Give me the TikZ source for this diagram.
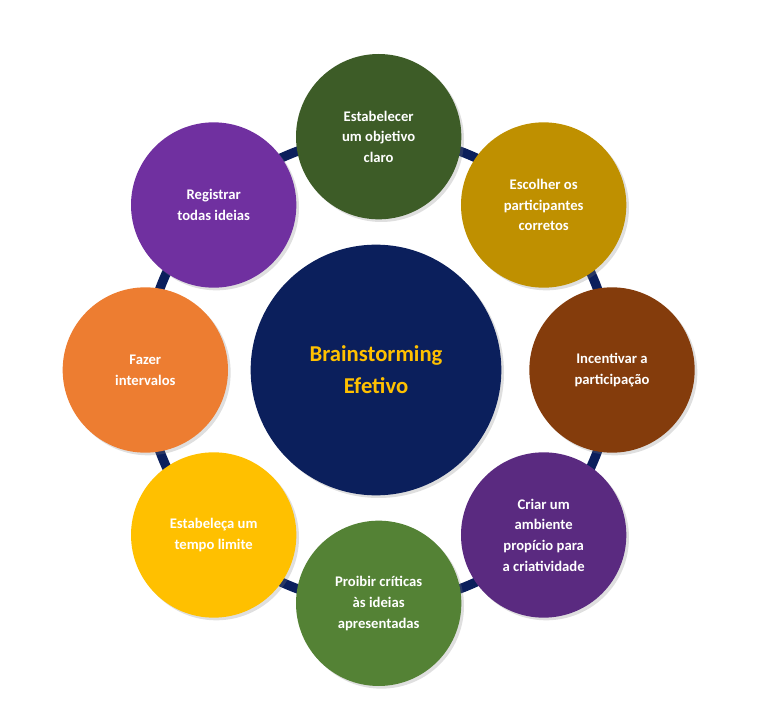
\documentclass[tikz,border=0pt]{standalone}
\usepackage{fontspec}
\setmainfont{Carlito}
\usetikzlibrary{positioning,shadows,calc}
\definecolor{navy}{HTML}{0B1F5C}
\definecolor{cgreen}{HTML}{3D5C27}
\definecolor{cgold}{HTML}{BF9000}
\definecolor{cbrown}{HTML}{843C0C}
\definecolor{cdpurple}{HTML}{5A2A80}
\definecolor{clgreen}{HTML}{548235}
\definecolor{cyellow}{HTML}{FFC000}
\definecolor{corange}{HTML}{ED7D31}
\definecolor{cpurple}{HTML}{7030A0}
\begin{document}
\begin{tikzpicture}[x=1pt,y=-1pt,
      outer_node/.style={
         circle,
         draw=none,
         minimum size=124pt,
         inner sep=0pt,
         align=center,
         text=white,
         font=\fontsize{11}{15.5}\selectfont\bfseries,
         drop shadow={opacity=0.25,shadow xshift=2pt,shadow yshift=-2pt}},
      hub_node/.style={
         circle,
         fill=navy,
         minimum size=188pt,
         align=center,
         text=cyellow,
         font=\fontsize{17}{24}\selectfont\bfseries,
         drop shadow={opacity=0.25,shadow xshift=2pt,shadow yshift=-2pt}}
]
      \useasboundingbox (0,0) rectangle (568.5,540);
      % ring behind the circles
      \draw[navy,line width=7pt] (284,277.5) circle (175pt);
      % centre
      \node[hub_node] (hub) at (282,277.5) {Brainstorming\\Efetivo};
      % outer circles
      \foreach \n/\a/\c/\txt in {%
        goal/90/cgreen/{Estabelecer\\um objetivo\\claro},
        people/45/cgold/{Escolher os\\participantes\\corretos},
        part/0/cbrown/{Incentivar a\\participação},
        env/-45/cdpurple/{Criar um\\ambiente\\propício para\\a criatividade},
        crit/-90/clgreen/{Proibir críticas\\às ideias\\apresentadas},
        time/-135/cyellow/{Estabeleça um\\tempo limite},
        pause/180/corange/{Fazer\\intervalos},
        notes/135/cpurple/{Registrar\\todas ideias}}
        \node[outer_node,fill=\c] (\n) at ($(284,277.5)+(\a:175 and -175)$) {\txt};
\end{tikzpicture}
\end{document}
